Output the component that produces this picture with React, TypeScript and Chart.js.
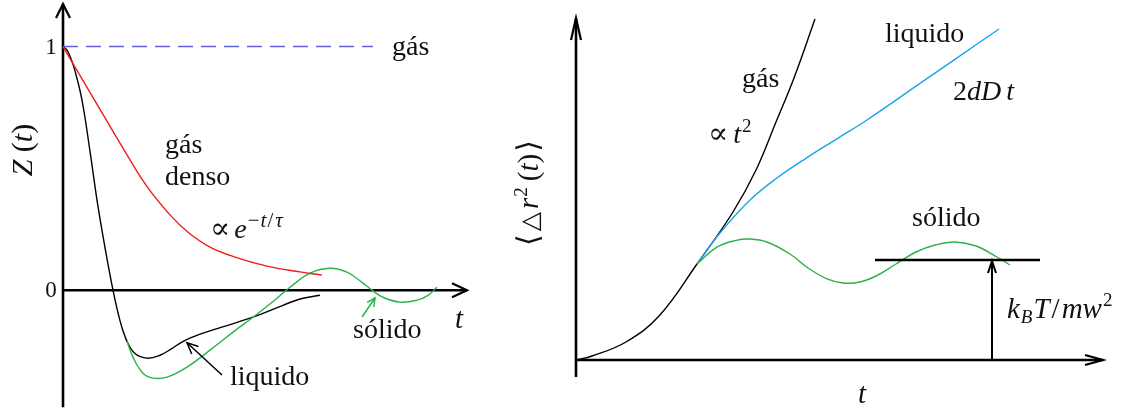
import React, { useEffect, useRef } from "react";
import { Chart, registerables } from "chart.js";

Chart.register(...registerables);

const SERIF = '"Liberation Serif", "Times New Roman", "DejaVu Serif", serif';
const INK = "#111111";

// ---- Left panel: Z(t), velocity autocorrelation ----
const gasT = [0, 7.75];
const gasZ = [1, 1];

const denseT = [0, 0.7, 1.425, 2.075, 2.675, 3.125, 3.675, 4.3, 5.1, 5.925, 6.475];
const denseZ = [1.0, 0.805, 0.604, 0.431, 0.309, 0.238, 0.177, 0.136, 0.099, 0.075, 0.062];

const liquidT = [0, 0.1, 0.2, 0.3, 0.475, 0.675, 0.85, 1.05, 1.25, 1.425, 1.6, 1.8, 2.1, 2.425, 2.7, 2.95, 3.2, 3.675, 4.675, 5.5, 5.925, 6.425];
const liquidZ = [1.0, 0.985, 0.95, 0.9, 0.78, 0.57, 0.37, 0.175, 0, -0.125, -0.21, -0.26, -0.279, -0.267, -0.242, -0.215, -0.195, -0.167, -0.115, -0.062, -0.036, -0.021];

const solidT = [1.6, 1.75, 2.0, 2.25, 2.6, 3.1, 3.675, 4.25, 4.75, 5.35, 5.675, 6.175, 6.675, 7.1, 7.5, 7.725, 8.0, 8.425, 8.85, 9.125, 9.35];
const solidZ = [-0.21, -0.275, -0.341, -0.361, -0.357, -0.316, -0.246, -0.172, -0.111, -0.033, 0.012, 0.07, 0.09, 0.074, 0.029, 0, -0.029, -0.049, -0.041, -0.021, 0.012];

const zTickValues = [0, 1];
const zTickLabels = ["0", "1"];

// ---- Right panel: mean squared displacement <Δr²(t)> ----
const msdGasT = [0, 0.4, 1.25, 2.075, 3.025, 3.925, 4.5, 5.0, 5.45, 5.975];
const msdGasR = [0, 0.1, 0.45, 1.1, 2.4, 3.7, 4.75, 5.95, 7.05, 8.525];

const msdLiquidT = [3.025, 3.6, 4.35, 5.025, 5.775, 6.525, 7.275, 8.5, 9.5, 10.575];
const msdLiquidR = [2.4, 3.175, 4.0, 4.55, 5.06, 5.53, 6.0, 6.845, 7.535, 8.275];

const msdSolidT = [3.025, 3.525, 4.0, 4.35, 4.775, 5.35, 5.8, 6.275, 6.675, 7.1, 7.5, 8.0, 8.5, 9.0, 9.475, 10.0, 10.525, 10.85];
const msdSolidR = [2.4, 2.82, 2.99, 3.025, 2.95, 2.65, 2.3, 2.03, 1.925, 1.95, 2.1, 2.4, 2.7, 2.88, 2.95, 2.85, 2.575, 2.375];

// k_B T / m w^2 plateau of the solid
const solidPlateau = 2.5;

type Run = { s: string; it?: boolean; sz?: number; dy?: number; gap?: number };

function font(sz: number, it?: boolean) {
  return `${it ? "italic " : ""}${sz}px ${SERIF}`;
}

function measureRuns(ctx: CanvasRenderingContext2D, runs: Run[], base: number) {
  let w = 0;
  for (const r of runs) {
    ctx.font = font(r.sz ?? base, r.it);
    w += (r.gap ?? 0) + ctx.measureText(r.s).width;
  }
  return w;
}

function drawRuns(ctx: CanvasRenderingContext2D, x: number, y: number, runs: Run[], base: number) {
  let cx = x;
  ctx.textAlign = "left";
  ctx.textBaseline = "alphabetic";
  for (const r of runs) {
    ctx.font = font(r.sz ?? base, r.it);
    cx += r.gap ?? 0;
    ctx.fillText(r.s, cx, y + (r.dy ?? 0));
    cx += ctx.measureText(r.s).width;
  }
}

function drawRotated(ctx: CanvasRenderingContext2D, cy: number, baseX: number, runs: Run[], base: number) {
  const w = measureRuns(ctx, runs, base);
  ctx.save();
  ctx.translate(baseX, cy);
  ctx.rotate(-Math.PI / 2);
  drawRuns(ctx, -w / 2, 0, runs, base);
  ctx.restore();
}

function head(ctx: CanvasRenderingContext2D, x1: number, y1: number, x2: number, y2: number, len: number, half: number) {
  const dx = x2 - x1, dy = y2 - y1;
  const d = Math.hypot(dx, dy) || 1;
  const ux = dx / d, uy = dy / d;
  const bx = x2 - ux * len, by = y2 - uy * len;
  ctx.beginPath();
  ctx.moveTo(bx - uy * half, by + ux * half);
  ctx.lineTo(x2, y2);
  ctx.lineTo(bx + uy * half, by - ux * half);
  ctx.stroke();
}

function arrow(ctx: CanvasRenderingContext2D, x1: number, y1: number, x2: number, y2: number, len: number, half: number) {
  ctx.beginPath();
  ctx.moveTo(x1, y1);
  ctx.lineTo(x2, y2);
  ctx.stroke();
  head(ctx, x1, y1, x2, y2, len, half);
}

function pts(ts: number[], vs: number[]) {
  return ts.map((t, i) => ({ x: t, y: vs[i] }));
}

function curve(ts: number[], vs: number[], color: string, extra: any = {}) {
  return {
    data: pts(ts, vs),
    showLine: true,
    borderColor: color,
    borderWidth: 1.4,
    pointRadius: 0,
    tension: 0.4,
    fill: false,
    clip: false,
    ...extra,
  };
}

const leftDecor = {
  id: "leftDecor",
  beforeDatasetsDraw(chart: any) {
    const { ctx, scales } = chart;
    const X = (v: number) => scales.x.getPixelForValue(v);
    const Y = (v: number) => scales.y.getPixelForValue(v);
    ctx.save();
    ctx.strokeStyle = "#000";
    ctx.lineWidth = 2.6;
    ctx.beginPath();
    ctx.moveTo(X(0), Y(-0.48));
    ctx.lineTo(X(0), Y(1.175) + 1);
    ctx.stroke();
    ctx.beginPath();
    ctx.moveTo(X(0), Y(0));
    ctx.lineTo(X(10.1), Y(0));
    ctx.stroke();
    ctx.lineWidth = 2.2;
    head(ctx, X(0), Y(0), X(0), Y(1.175), 14, 7);
    head(ctx, X(0), Y(0), X(10.1), Y(0), 15, 7);
    ctx.restore();
  },
  afterDatasetsDraw(chart: any) {
    const { ctx, scales } = chart;
    const X = (v: number) => scales.x.getPixelForValue(v);
    const Y = (v: number) => scales.y.getPixelForValue(v);
    ctx.save();
    ctx.fillStyle = INK;
    ctx.font = font(23);
    ctx.textAlign = "center";
    ctx.textBaseline = "middle";
    zTickValues.forEach((v, i) => ctx.fillText(zTickLabels[i], X(0) - 12, Y(v) + 1));
    drawRotated(ctx, Y(0.575), X(0) - 31, [
      { s: "Z", it: true },
      { s: " (" },
      { s: "t", it: true },
      { s: ")" },
    ], 30);
    drawRuns(ctx, X(9.8), Y(-0.155), [{ s: "t", it: true }], 29);
    drawRuns(ctx, X(8.225), Y(0.9655), [{ s: "gás" }], 28);
    drawRuns(ctx, X(2.55), Y(0.563), [{ s: "gás" }], 28);
    drawRuns(ctx, X(2.55), Y(0.432), [{ s: "denso" }], 28);
    drawRuns(ctx, X(3.675), Y(0.214), [
      { s: "∝", sz: 30 },
      { s: "e", it: true, sz: 28, gap: 4 },
      { s: "−", sz: 21, dy: -11, gap: 1 },
      { s: "t", it: true, sz: 21, dy: -11, gap: 1 },
      { s: "/", sz: 21, dy: -11, gap: 1 },
      { s: "τ", it: true, sz: 21, dy: -11, gap: 2 },
    ], 28);
    drawRuns(ctx, X(4.175), Y(-0.389), [{ s: "liquido" }], 28);
    drawRuns(ctx, X(7.25), Y(-0.197), [{ s: "sólido" }], 28);
    ctx.strokeStyle = "#000";
    ctx.lineWidth = 1.5;
    arrow(ctx, X(3.975), Y(-0.348), X(3.1), Y(-0.216), 11, 5);
    ctx.strokeStyle = "#2bb24a";
    arrow(ctx, X(7.475), Y(-0.11), X(7.8), Y(-0.032), 8, 4);
    ctx.restore();
  },
};

const rightDecor = {
  id: "rightDecor",
  beforeDatasetsDraw(chart: any) {
    const { ctx, scales } = chart;
    const X = (v: number) => scales.x.getPixelForValue(v);
    const Y = (v: number) => scales.y.getPixelForValue(v);
    ctx.save();
    ctx.strokeStyle = "#000";
    ctx.lineWidth = 2.6;
    ctx.beginPath();
    ctx.moveTo(X(0), Y(-0.425));
    ctx.lineTo(X(0), Y(8.55) + 1);
    ctx.stroke();
    ctx.beginPath();
    ctx.moveTo(X(0), Y(0));
    ctx.lineTo(X(13.175), Y(0));
    ctx.stroke();
    ctx.lineWidth = 2.2;
    head(ctx, X(0), Y(0), X(0), Y(8.55), 22, 5);
    head(ctx, X(0), Y(0), X(13.175), Y(0), 18, 5);
    ctx.restore();
  },
  afterDatasetsDraw(chart: any) {
    const { ctx, scales } = chart;
    const X = (v: number) => scales.x.getPixelForValue(v);
    const Y = (v: number) => scales.y.getPixelForValue(v);
    ctx.save();
    ctx.strokeStyle = "#000";
    ctx.lineWidth = 2.6;
    ctx.beginPath();
    ctx.moveTo(X(7.475), Y(solidPlateau));
    ctx.lineTo(X(11.6), Y(solidPlateau));
    ctx.stroke();
    ctx.lineWidth = 2;
    arrow(ctx, X(10.4), Y(0), X(10.4), Y(solidPlateau) + 1, 12, 4);

    ctx.fillStyle = INK;
    drawRotated(ctx, Y(4.175), X(0) - 38, [
      { s: "⟨", sz: 30 },
      { s: "△", sz: 25, gap: 3 },
      { s: "r", it: true, gap: 3 },
      { s: "2", sz: 19, dy: -11, gap: 1 },
      { s: "(", gap: 6 },
      { s: "t", it: true },
      { s: ")" },
      { s: "⟩", sz: 30, gap: 2 },
    ], 29);
    drawRuns(ctx, X(7.05), Y(-1.075), [{ s: "t", it: true }], 29);
    drawRuns(ctx, X(7.725), Y(7.95), [{ s: "liquido" }], 28);
    drawRuns(ctx, X(9.425), Y(6.5), [
      { s: "2" },
      { s: "d", it: true },
      { s: "D", it: true },
      { s: "t", it: true, gap: 5 },
    ], 28);
    drawRuns(ctx, X(4.15), Y(6.825), [{ s: "gás" }], 28);
    drawRuns(ctx, X(3.3), Y(5.425), [
      { s: "∝", sz: 30 },
      { s: "t", it: true, gap: 5 },
      { s: "2", sz: 19, dy: -11, gap: 1 },
    ], 28);
    drawRuns(ctx, X(8.4), Y(3.35), [{ s: "sólido" }], 28);
    drawRuns(ctx, X(10.775), Y(1.05), [
      { s: "k", it: true },
      { s: "B", it: true, sz: 19, dy: 5, gap: 1 },
      { s: "T", it: true, gap: 1 },
      { s: "/", gap: 2 },
      { s: "m", it: true, gap: 2 },
      { s: "w", it: true },
      { s: "2", sz: 19, dy: -12, gap: 1 },
    ], 29);
    ctx.restore();
  },
};

function useChart(ref: React.RefObject<HTMLCanvasElement>, config: any) {
  useEffect(() => {
    if (!ref.current) return;
    const chart = new Chart(ref.current, config);
    return () => chart.destroy();
  }, []);
}

function baseOptions(padding: any, xr: [number, number], yr: [number, number]) {
  return {
    responsive: false,
    animation: false,
    devicePixelRatio: 1,
    events: [],
    layout: { padding },
    scales: {
      x: { type: "linear", display: false, min: xr[0], max: xr[1] },
      y: { type: "linear", display: false, min: yr[0], max: yr[1] },
    },
    plugins: { legend: { display: false }, tooltip: { enabled: false } },
  };
}

export default function App() {
  const leftRef = useRef<HTMLCanvasElement>(null);
  const rightRef = useRef<HTMLCanvasElement>(null);

  useChart(leftRef, {
    type: "scatter",
    data: {
      datasets: [
        curve(gasT, gasZ, "#6262dc", { borderDash: [15, 8], borderWidth: 1.5, tension: 0 }),
        curve(denseT, denseZ, "#ee1c1c"),
        curve(solidT, solidZ, "#2bb24a"),
        curve(liquidT, liquidZ, "#000000"),
      ],
    },
    options: baseOptions({ left: 63, right: 17, top: 10, bottom: 0 }, [0, 10], [-0.5, 1.15]),
    plugins: [leftDecor],
  });

  useChart(rightRef, {
    type: "scatter",
    data: {
      datasets: [
        curve(msdSolidT, msdSolidR, "#2bb24a"),
        curve(msdLiquidT, msdLiquidR, "#1aa3e8"),
        curve(msdGasT, msdGasR, "#000000"),
      ],
    },
    options: baseOptions({ left: 66, right: 25, top: 0, bottom: 52 }, [0, 13.25], [0, 9]),
    plugins: [rightDecor],
  });

  return (
    <div style={{ position: "absolute", left: 0, top: 0, width: 1131, height: 412, background: "#fff" }}>
      <canvas ref={leftRef} width={480} height={412} style={{ position: "absolute", left: 0, top: 0, width: 480, height: 412 }} />
      <canvas ref={rightRef} width={621} height={412} style={{ position: "absolute", left: 510, top: 0, width: 621, height: 412 }} />
    </div>
  );
}
